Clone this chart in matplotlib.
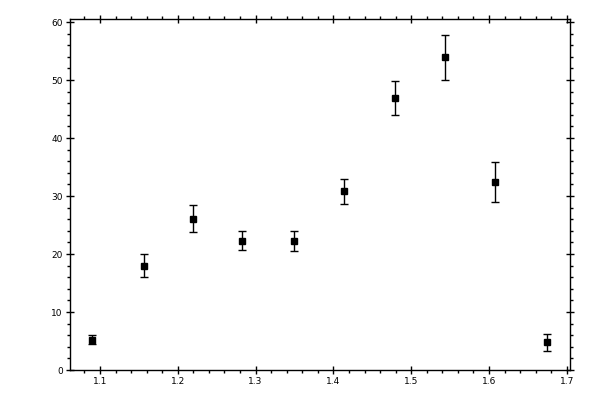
import matplotlib
matplotlib.use("Agg")
import matplotlib.pyplot as plt
from matplotlib.ticker import MultipleLocator, FormatStrFormatter

x_vals = [1.090, 1.156, 1.219, 1.283, 1.349, 1.414, 1.479, 1.544, 1.608, 1.674]
y_vals = [5.2, 18.0, 26.1, 22.3, 22.3, 30.8, 46.9, 53.9, 32.4, 4.8]
y_err = [0.8, 2.0, 2.3, 1.6, 1.7, 2.2, 3.0, 3.9, 3.5, 1.45]
x_ticks = [1.1, 1.2, 1.3, 1.4, 1.5, 1.6, 1.7]
y_ticks = [0, 10, 20, 30, 40, 50, 60]

fig = plt.figure(figsize=(6, 4), dpi=100)
ax = fig.add_axes([0.116, 0.075, 0.834, 0.877])

ax.errorbar(x_vals, y_vals, yerr=y_err, fmt='s', color='black', ms=5,
            ecolor='black', elinewidth=1.0, capsize=3, capthick=1.0)

ax.set_xlim(1.061, 1.704)
ax.set_ylim(0, 60.5)
ax.set_xticks(x_ticks)
ax.set_yticks(y_ticks)
ax.xaxis.set_major_formatter(FormatStrFormatter('%.1f'))
ax.yaxis.set_major_formatter(FormatStrFormatter('%d'))
ax.xaxis.set_minor_locator(MultipleLocator(0.02))
ax.yaxis.set_minor_locator(MultipleLocator(2))

for s in ax.spines.values():
    s.set_linewidth(1.0)

ax.tick_params(which='major', direction='inout', length=6, width=1.0,
               top=True, right=True, labelsize=6.5, pad=2)
ax.tick_params(which='minor', direction='out', length=2.5, width=1.0,
               top=True, right=True)

fig.savefig("out.png", dpi=100)
